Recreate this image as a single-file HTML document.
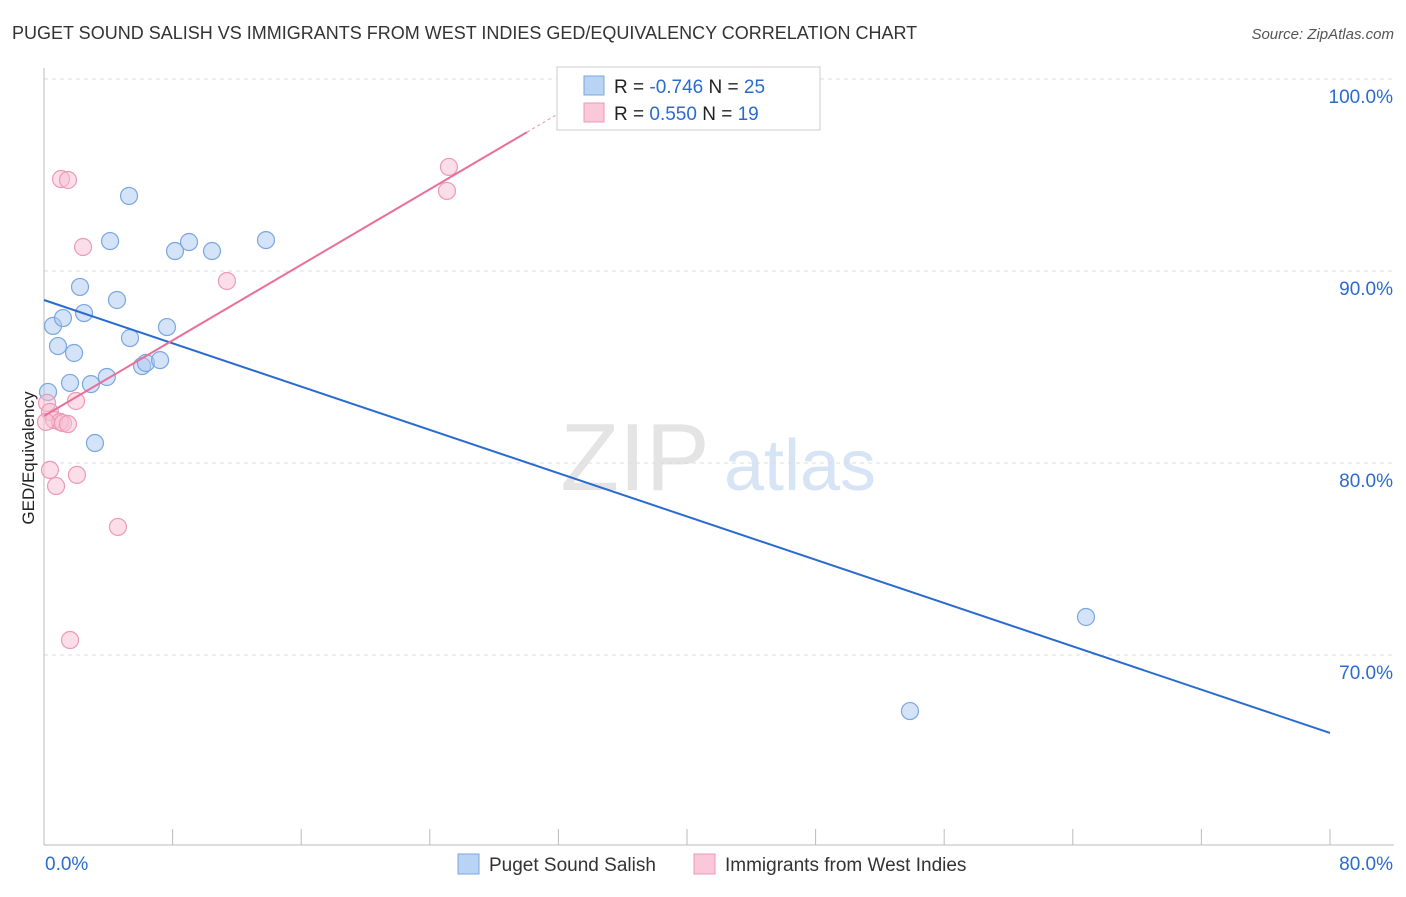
<!DOCTYPE html>
<html><head><meta charset="utf-8"><style>
body{margin:0;background:#fff;font-family:"Liberation Sans",sans-serif;}
svg text{font-family:"Liberation Sans",sans-serif;}
</style></head><body>
<svg id="chart" width="1406" height="892" viewBox="0 0 1406 892" xmlns="http://www.w3.org/2000/svg">
<text x="12" y="39" font-size="18" fill="#333">PUGET SOUND SALISH VS IMMIGRANTS FROM WEST INDIES GED/EQUIVALENCY CORRELATION CHART</text>
<text x="1394" y="39" font-size="15" fill="#555" font-style="italic" text-anchor="end">Source: ZipAtlas.com</text>
<text x="635" y="490" font-size="96" fill="#e4e4e4" text-anchor="middle" font-family="Liberation Serif">ZIP</text>
<text x="800" y="490" font-size="72" fill="#d6e4f5" text-anchor="middle">atlas</text>
<g id="grid"></g><g id="axes"></g><g id="marks"></g>
<text transform="translate(34,458) rotate(-90)" font-size="17" fill="#222" text-anchor="middle">GED/Equivalency</text>
<g>
<rect x="557" y="67" width="263" height="63" fill="#fff" stroke="#ccc"/>
<rect x="584" y="76" width="20" height="19" fill="#b9d3f5" stroke="#7aa7e0"/>
<rect x="584" y="103" width="20" height="19" fill="#fac8d8" stroke="#ee9ab5"/>
<text x="614" y="93" font-size="19" fill="#222">R = <tspan fill="#2a6bd0">-0.746</tspan>   N = <tspan fill="#2a6bd0">25</tspan></text>
<text x="614" y="120" font-size="19" fill="#222">R =  <tspan fill="#2a6bd0">0.550</tspan>   N =  <tspan fill="#2a6bd0">19</tspan></text>
</g>
<g>
<rect x="458" y="854" width="21" height="20" fill="#b9d3f5" stroke="#7aa7e0"/>
<text x="489" y="871" font-size="19" fill="#333">Puget Sound Salish</text>
<rect x="694" y="854" width="21" height="20" fill="#fac8d8" stroke="#ee9ab5"/>
<text x="725" y="871" font-size="19" fill="#333">Immigrants from West Indies</text>
</g>
</svg>
<script>
const blueX=[0.25,0.56,1.18,0.87,1.87,2.24,2.49,1.62,2.92,3.17,3.91,4.11,4.54,5.29,5.35,6.10,6.34,7.22,7.65,8.15,9.02,10.45,13.81,53.87,64.82];
const blueY=[83.7,87.14,87.55,86.09,85.73,89.17,87.81,84.17,84.11,81.04,84.48,91.56,88.49,93.91,86.51,85.05,85.21,85.36,87.08,91.04,91.51,91.04,91.61,67.08,71.98];
const pinkX=[0.19,0.37,0.62,1.0,1.18,1.49,0.12,1.99,0.37,0.75,2.05,4.60,1.62,1.06,1.49,2.43,11.38,25.07,25.19];
const pinkY=[83.13,82.66,82.24,82.14,82.08,82.03,82.14,83.23,79.64,78.80,79.38,76.67,70.78,94.79,94.74,91.25,89.48,94.17,95.42];
const blueLine=[88.49,65.94];
const pinkLine=[82.45,0.492];
const yTicks=[70,80,90,100];
const yTickLabels=["70.0%","80.0%","90.0%","100.0%"];
const xTickLabels=["0.0%","80.0%"];
const NS="http://www.w3.org/2000/svg";
const xs=v=>44+v*(1286/80);
const ys=v=>79+(100-v)*19.2;
function mk(tag,attrs,parent){const e=document.createElementNS(NS,tag);for(const k in attrs)e.setAttribute(k,attrs[k]);document.getElementById(parent).appendChild(e);return e;}
yTicks.forEach((t,i)=>{
 const g=mk('line',{x1:44,x2:1394,y1:ys(t),y2:ys(t),stroke:'#ddd','stroke-dasharray':'4,4'},'grid');
 
 
 const l=mk('text',{x:1393,y:ys(t)+24,'font-size':19,fill:'#2a6bd0','text-anchor':'end'},'axes');
 l.textContent=yTickLabels[i];
 
 
});
const ax=mk('line',{x1:44,x2:44,y1:68,y2:845,stroke:'#bbb'},'axes');


const bx=mk('line',{x1:44,x2:1394,y1:845,y2:845,stroke:'#bbb'},'axes');


for(let i=0;i<=10;i++){const t=mk('line',{x1:xs(i*8),x2:xs(i*8),y1:829,y2:845,stroke:'#bbb'},'axes');
 
 }
[[0,'start',45],[80,'end',1393]].forEach((d,i)=>{const l=mk('text',{x:d[2],y:870,'font-size':19,fill:'#2a6bd0','text-anchor':d[1]},'axes');l.textContent=xTickLabels[i];
 
 });
blueX.forEach((x,i)=>{const c=mk('circle',{cx:xs(x),cy:ys(blueY[i]),r:8.5,fill:'rgba(170,200,240,0.5)',stroke:'#7aa7e0','stroke-width':1.2},'marks');
 
 });
pinkX.forEach((x,i)=>{const c=mk('circle',{cx:xs(x),cy:ys(pinkY[i]),r:8.5,fill:'rgba(248,190,210,0.5)',stroke:'#ee9ab5','stroke-width':1.2},'marks');
 
 });
const bl=mk('line',{x1:xs(0),y1:ys(blueLine[0]),x2:xs(80),y2:ys(blueLine[1]),stroke:'#2a6bd0','stroke-width':2},'marks');


const pEnd=30.05, pDash=33.5;
const pl=mk('line',{x1:xs(0),y1:ys(pinkLine[0]),x2:xs(pEnd),y2:ys(pinkLine[0]+pinkLine[1]*pEnd),stroke:'#e8709a','stroke-width':2},'marks');


const pd=mk('line',{x1:xs(pEnd),y1:ys(pinkLine[0]+pinkLine[1]*pEnd),x2:xs(pDash),y2:ys(pinkLine[0]+pinkLine[1]*pDash),stroke:'#e8a0b8','stroke-width':1.2,'stroke-dasharray':'3,3'},'marks');


</script>
</body></html>
